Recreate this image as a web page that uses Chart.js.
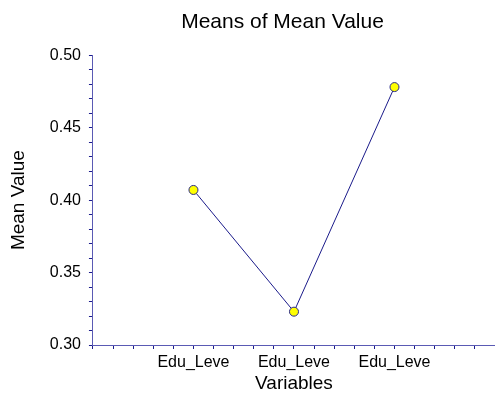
<!DOCTYPE html>
<html>
<head>
<meta charset="utf-8">
<script src="https://cdn.jsdelivr.net/npm/chart.js@4/dist/chart.umd.min.js"></script>
<style>
  html, body { margin: 0; padding: 0; background: #fff; }
  #wrap { width: 495px; height: 399px; }
</style>
</head>
<body>
<div id="wrap"><canvas id="chart"></canvas></div>
<script>
// data
var categories = ['Edu_Leve', 'Edu_Leve', 'Edu_Leve'];
var categoryPos = [1, 2, 3];
var meanValues = [0.407, 0.323, 0.478];

var points = [];
for (var i = 0; i < meanValues.length; i++) {
    points.push({ x: categoryPos[i], y: meanValues[i] });
}

var axisColor = '#5a5ab4';
var tickColor = '#1c1c8c';
var font = 'Arial, "Liberation Sans", sans-serif';

Chart.defaults.font.family = font;
Chart.defaults.color = '#000';

// the original title sits a bit right of the page centre
var shiftTitle = {
    id: 'shiftTitle',
    afterLayout: function (chart) {
        if (chart.titleBlock) chart.titleBlock.left = 70;
    }
};

var ctx = document.getElementById('chart');
var myChart = new Chart(ctx, {
    type: 'scatter',
    data: {
        datasets: [{
            data: points,
            showLine: true,
            borderColor: '#1a1a8a',
            borderWidth: 1,
            backgroundColor: '#ffff00',
            pointBackgroundColor: '#ffff00',
            pointBorderColor: '#2a2a8a',
            pointBorderWidth: 1,
            pointRadius: 4.5
        }]
    },
    options: {
        responsive: true,
        maintainAspectRatio: false,
        animation: false,
        layout: { autoPadding: false, padding: { top: 10, right: 0, bottom: 4, left: 7 } },
        plugins: {
            legend: { display: false },
            tooltip: { enabled: false },
            title: {
                display: true,
                text: 'Means of Mean Value',
                font: { size: 21, weight: 'normal' },
                color: '#000',
                padding: { top: 0, bottom: 20 }
            }
        },
        scales: {
            x: {
                type: 'linear',
                min: 0,
                max: 4,
                afterFit: function (scale) { scale.paddingRight = 0; },
                border: { display: true, color: axisColor, width: 1 },
                grid: { drawOnChartArea: false, drawTicks: true, tickLength: 4, color: tickColor },
                ticks: {
                    stepSize: 0.2,
                    autoSkip: false,
                    maxRotation: 0,
                    padding: 4,
                    font: { size: 16 },
                    callback: function (value) {
                        var idx = categoryPos.indexOf(Math.round(value * 100) / 100);
                        return idx >= 0 ? categories[idx] : '';
                    }
                },
                title: {
                    display: true,
                    text: 'Variables',
                    font: { size: 19 },
                    padding: { top: -4, bottom: 0 }
                }
            },
            y: {
                min: 0.30,
                max: 0.50,
                border: { display: true, color: axisColor, width: 1 },
                grid: { drawOnChartArea: false, drawTicks: true, tickLength: 4, color: tickColor },
                ticks: {
                    stepSize: 0.01,
                    autoSkip: false,
                    padding: 8,
                    font: { size: 16 },
                    callback: function (value) {
                        return Math.round(value * 100) % 5 === 0 ? value.toFixed(2) : '';
                    }
                },
                title: {
                    display: true,
                    text: 'Mean Value',
                    font: { size: 19 },
                    padding: { top: 0, bottom: 12 }
                }
            }
        }
    },
    plugins: [shiftTitle]
});
</script>
</body>
</html>
